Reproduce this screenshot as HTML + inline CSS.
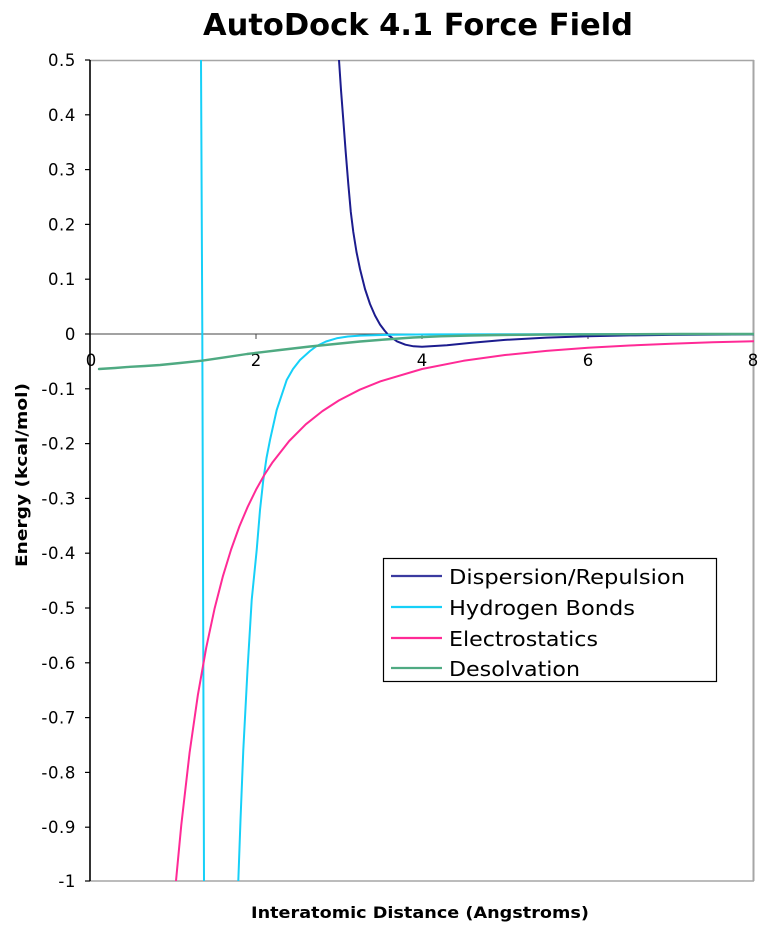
<!DOCTYPE html>
<html>
<head>
<meta charset="utf-8">
<style>
  html, body { margin:0; padding:0; background:#ffffff; }
  svg { display:block; }
  text { font-family: "DejaVu Sans", "Liberation Sans", sans-serif; fill:#000; }
</style>
</head>
<body>
<svg width="766" height="931" viewBox="0 0 766 931" xmlns="http://www.w3.org/2000/svg">
  <defs>
    <clipPath id="plot">
      <rect x="90" y="60" width="664" height="821"/>
    </clipPath>
  </defs>
  <rect x="0" y="0" width="766" height="931" fill="#ffffff"/>

  <!-- Title -->
  <text x="203" y="35" font-size="30" font-weight="bold" textLength="430" lengthAdjust="spacingAndGlyphs">AutoDock 4.1 Force Field</text>

  <!-- plot frame -->
  <line x1="90" y1="60.5" x2="754" y2="60.5" stroke="#a6a6a6" stroke-width="1.5"/>
  <line x1="753.5" y1="60" x2="753.5" y2="881" stroke="#a6a6a6" stroke-width="2"/>
  <line x1="90" y1="881" x2="754" y2="881" stroke="#a6a6a6" stroke-width="1.6"/>

  <!-- zero line (x axis) -->
  <line x1="90" y1="334" x2="754" y2="334" stroke="#444" stroke-width="1"/>
  <!-- x ticks -->
  <g stroke="#444" stroke-width="1">
    <line x1="256" y1="334" x2="256" y2="339"/>
    <line x1="422" y1="334" x2="422" y2="339"/>
    <line x1="588" y1="334" x2="588" y2="339"/>
  </g>

  <!-- y axis -->
  <line x1="90" y1="60" x2="90" y2="881" stroke="#000" stroke-width="1.6"/>
  <g stroke="#000" stroke-width="1.2">
    <line x1="85" y1="60" x2="90" y2="60"/>
    <line x1="85" y1="114.8" x2="90" y2="114.8"/>
    <line x1="85" y1="169.6" x2="90" y2="169.6"/>
    <line x1="85" y1="224.4" x2="90" y2="224.4"/>
    <line x1="85" y1="279.2" x2="90" y2="279.2"/>
    <line x1="85" y1="334" x2="90" y2="334"/>
    <line x1="85" y1="388.8" x2="90" y2="388.8"/>
    <line x1="85" y1="443.6" x2="90" y2="443.6"/>
    <line x1="85" y1="498.4" x2="90" y2="498.4"/>
    <line x1="85" y1="553.2" x2="90" y2="553.2"/>
    <line x1="85" y1="608" x2="90" y2="608"/>
    <line x1="85" y1="662.8" x2="90" y2="662.8"/>
    <line x1="85" y1="717.6" x2="90" y2="717.6"/>
    <line x1="85" y1="772.4" x2="90" y2="772.4"/>
    <line x1="85" y1="827.2" x2="90" y2="827.2"/>
    <line x1="85" y1="881" x2="90" y2="881"/>
  </g>

  <!-- y tick labels -->
  <g font-size="16.5" text-anchor="end" letter-spacing="0.6">
    <text x="76" y="66">0.5</text>
    <text x="76" y="120.8">0.4</text>
    <text x="76" y="175.6">0.3</text>
    <text x="76" y="230.4">0.2</text>
    <text x="76" y="285.2">0.1</text>
    <text x="76" y="340">0</text>
    <text x="76" y="394.8">-0.1</text>
    <text x="76" y="449.6">-0.2</text>
    <text x="76" y="504.4">-0.3</text>
    <text x="76" y="559.2">-0.4</text>
    <text x="76" y="614">-0.5</text>
    <text x="76" y="668.8">-0.6</text>
    <text x="76" y="723.6">-0.7</text>
    <text x="76" y="778.4">-0.8</text>
    <text x="76" y="833.2">-0.9</text>
    <text x="76" y="887">-1</text>
  </g>

  <!-- x tick labels -->
  <g font-size="16.5" text-anchor="middle">
    <text x="91" y="366">0</text>
    <text x="256" y="366">2</text>
    <text x="422" y="366">4</text>
    <text x="588" y="366">6</text>
    <text x="753" y="366">8</text>
  </g>

  <!-- axis titles -->
  <text x="251" y="918" font-size="16" font-weight="bold" textLength="338" lengthAdjust="spacingAndGlyphs">Interatomic Distance (Angstroms)</text>
  <text transform="translate(27,475) rotate(-90)" x="0" y="0" font-size="16" font-weight="bold" text-anchor="middle" textLength="184" lengthAdjust="spacingAndGlyphs">Energy (kcal/mol)</text>

  <!-- series -->
  <g clip-path="url(#plot)" fill="none" stroke-width="2" stroke-linejoin="round" stroke-linecap="round">
    <!-- Dispersion/Repulsion -->
    <polyline stroke="#1c1c8e" points="338.5,50 339,60 341,90 343.3,120 345.7,152 348.3,184 350.8,212 353.3,232 356.5,252 360,269 365,289 370,304 375,315.5 380,324.5 384.5,330.5 388.8,335.5 397.1,341.4 405.4,344.7 413.5,346.3 422,346.7 446.9,345.3 471.8,342.8 505,339.9 546.5,337.6 588,336.2 629.5,335.4 671,334.9 754,334.4"/>
    <!-- Hydrogen Bonds -->
    <polyline stroke="#16d0f8" points="201,50 201,60 202.3,330 204,881 204,890"/>
    <polyline stroke="#16d0f8" points="238,890 238.3,881 240.5,820 243.3,750 247.5,670 251.7,600 256.7,550 260,510 263.3,480 266.5,458 270,440 276.7,410 286.7,380 293,369 300,360 310,351 316.7,346 326,341.5 336.7,338.3 348,336.5 360,335.6 390,334.8 430,334.4 500,334.2 754,334"/>
    <!-- Electrostatics -->
    <polyline stroke="#ff2a96" points="174.5,895 176,881 177.2,868.1 181.3,824.9 189.6,752.6 197.9,694.8 206.2,647.8 214.5,608.9 222.8,576.6 231.1,549.5 239.4,526.4 247.7,506.8 256,489.8 264.3,475 272.6,462.2 289.2,441 305.8,424.3 322.4,411.1 339,400.4 359.75,389.7 380.5,381.3 422,369 463.5,360.8 505,355 546.5,350.9 588,347.8 629.5,345.5 671,343.7 712.5,342.3 754,341.2"/>
    <!-- Desolvation -->
    <polyline stroke="#4faa82" stroke-width="2.4" points="99,369 115,368 130,366.8 145,366 160,365 180,363 202,360.7 225,357.3 247,354 265,351.8 280,350 310,346.5 335,344 360,341.5 385,339.5 413,337.5 440,336.3 470,335.5 500,335 550,334.5 600,334.3 680,334 754,334"/>
  </g>

  <!-- Legend -->
  <rect x="383.5" y="558.5" width="333" height="123" fill="#ffffff" stroke="#000" stroke-width="1.2"/>
  <g stroke-width="2.2">
    <line x1="391" y1="576" x2="442" y2="576" stroke="#3a3aa0"/>
    <line x1="391" y1="607" x2="442" y2="607" stroke="#16d0f8"/>
    <line x1="391" y1="638" x2="442" y2="638" stroke="#ff2a96"/>
    <line x1="391" y1="668" x2="442" y2="668" stroke="#4faa82"/>
  </g>
  <g font-size="20.5">
    <text x="449" y="584" textLength="236" lengthAdjust="spacingAndGlyphs">Dispersion/Repulsion</text>
    <text x="449" y="615" textLength="186" lengthAdjust="spacingAndGlyphs">Hydrogen Bonds</text>
    <text x="449" y="646" textLength="149" lengthAdjust="spacingAndGlyphs">Electrostatics</text>
    <text x="449" y="676" textLength="131" lengthAdjust="spacingAndGlyphs">Desolvation</text>
  </g>
</svg>
</body>
</html>
